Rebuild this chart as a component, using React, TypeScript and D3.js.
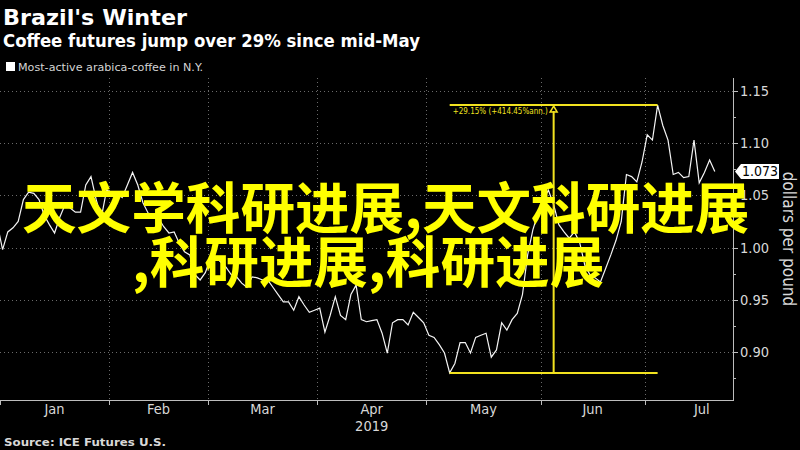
import React, { useMemo } from 'react';
import * as d3 from 'd3';

// ─── data ────────────────────────────────────────────────────────────────
// ICE trading calendar (weekdays minus exchange holidays)
const FIRST_DAY = '2018-12-31';
const LAST_DAY = '2019-07-31';
const HOLIDAYS = ['2019-01-01', '2019-01-21', '2019-02-18', '2019-04-19', '2019-05-27', '2019-07-04'];

// most-active arabica, $/lb, one value per trading day from Dec 31 2018
const PRICES = [
  1.022,
  0.998, 1.015, 1.019, 1.025, 1.046, 1.053, 1.052, 1.046, 1.031, 1.022,
  1.014, 1.029, 1.041, 1.038, 1.034, 1.034, 1.06, 1.068, 1.046, 1.029,
  1.055, 1.053, 1.052, 1.048, 1.06, 1.072, 1.06, 1.043, 1.033, 1.031,
  1.028, 1.02, 1.014, 1.015, 1.004, 0.996, 0.993, 0.974, 0.969, 0.976,
  0.99, 0.991, 0.986, 0.981, 0.974, 0.972, 0.966, 0.962, 0.972, 0.971,
  0.969, 0.969, 0.962, 0.955, 0.948, 0.948, 0.94, 0.953, 0.945, 0.938,
  0.94, 0.942, 0.919, 0.935, 0.953, 0.935, 0.931, 0.955, 0.964, 0.931,
  0.929, 0.93, 0.931, 0.918, 0.899, 0.928, 0.931, 0.931, 0.926, 0.938,
  0.933, 0.928, 0.916, 0.914, 0.907, 0.899, 0.88, 0.889, 0.909, 0.909,
  0.899, 0.914, 0.916, 0.918, 0.895, 0.902, 0.928, 0.921, 0.931, 0.937,
  0.955, 0.993, 1.017, 1.033, 1.046, 1.055, 1.041, 1.022, 1.015, 1.009,
  1.015, 1.005, 0.983, 0.974, 0.971, 0.967, 0.98, 0.993, 1.007, 1.025,
  1.07, 1.068, 1.063, 1.082, 1.108, 1.103, 1.1365, 1.117, 1.103, 1.07,
  1.072, 1.067, 1.068, 1.103, 1.062, 1.072, 1.084, 1.073,
];

const MONTH_LABELS = ['Jan', 'Feb', 'Mar', 'Apr', 'May', 'Jun', 'Jul'];
const YEAR_LABEL = '2019';
const Y_TICKS = [0.9, 0.95, 1.0, 1.05, 1.1, 1.15];
const Y_MINOR = [0.875, 0.925, 0.975, 1.025, 1.075, 1.125];

const MEASURE_FROM = '2019-05-07';
const MEASURE_TO = '2019-07-03';
const MEASURE_LABEL = '+29.15% (+414.45%ann.)';

const TITLE = "Brazil's Winter";
const SUBTITLE = 'Coffee futures jump over 29% since mid-May';
const LEGEND = 'Most-active arabica-coffee in N.Y.';
const UNITS = 'dollars per pound';
const SOURCE = 'Source: ICE Futures U.S.';
const OVERLAY = ['天文学科研进展,天文科研进展', ',科研进展,科研进展'];

// ─── layout ──────────────────────────────────────────────────────────────
const W = 800;
const H = 450;
const PLOT = { left: 0, right: 733, top: 78, bottom: 400 };
const YELLOW = '#f2e21f';
const NARROW = "'Liberation Sans Narrow', 'DejaVu Sans Condensed', 'Roboto Condensed', 'Liberation Sans', sans-serif";
const BOLD = "'DejaVu Sans', Verdana, sans-serif";

const fmt = d3.timeFormat('%Y-%m-%d');

export default function App() {
  const days = useMemo(() => {
    const end = d3.timeDay.offset(new Date(LAST_DAY + 'T00:00'), 1);
    return d3.timeDay
      .range(new Date(FIRST_DAY + 'T00:00'), end)
      .filter(d => d.getDay() !== 0 && d.getDay() !== 6 && !HOLIDAYS.includes(fmt(d)));
  }, []);
  const keys = days.map(fmt);

  const x = d3.scaleLinear().domain([0.5, 141.5]).range([PLOT.left, PLOT.right]);
  const y = d3.scaleLinear().domain([0.9, 1.15]).range([352, 91]);

  const line = d3
    .line<number>()
    .x((_, i) => x(i))
    .y(v => y(v));

  // month spans on the trading-day index
  const months = MONTH_LABELS.map((label, m) => {
    const idx = days.map((d, i) => (d.getFullYear() === 2019 && d.getMonth() === m ? i : -1)).filter(i => i >= 0);
    const first = idx[0];
    const last = idx[idx.length - 1];
    return { label, tick: x(first - 0.5), center: x((first + last) / 2) };
  });

  const iFrom = keys.indexOf(MEASURE_FROM);
  const iTo = keys.indexOf(MEASURE_TO);
  const mx0 = x(iFrom);
  const mx1 = x(iTo);
  const mxMid = (mx0 + mx1) / 2;
  const myLo = y(PRICES[iFrom]);
  const myHi = y(PRICES[iTo]);

  const lastV = PRICES[PRICES.length - 1];
  const ly = y(lastV);

  return (
    <svg
      width={W}
      height={H}
      style={{ position: 'absolute', left: 0, top: 0, display: 'block' }}
      fontFamily={BOLD}
    >
      <rect width={W} height={H} fill="#000" />
      <defs>
        <clipPath id="plot-clip">
          <rect x={PLOT.left} y={PLOT.top} width={PLOT.right - PLOT.left} height={PLOT.bottom - PLOT.top} />
        </clipPath>
      </defs>

      {/* header */}
      <text x={3} y={25} fill="#fff" fontSize={22} fontWeight="bold" textLength={184} lengthAdjust="spacingAndGlyphs">
        {TITLE}
      </text>
      <text x={3} y={47} fill="#fff" fontSize={17} fontWeight="bold" textLength={417} lengthAdjust="spacingAndGlyphs">
        {SUBTITLE}
      </text>
      <rect x={6} y={62} width={9} height={9} fill="#fff" />
      <text x={18} y={71} fill="#d4d4d4" fontSize={11} textLength={185} lengthAdjust="spacingAndGlyphs">
        {LEGEND}
      </text>

      {/* grid */}
      <g stroke="#6a6a6a" strokeWidth={1} strokeDasharray="1 3">
        {Y_TICKS.map(t => (
          <line key={t} x1={PLOT.left} x2={PLOT.right} y1={Math.round(y(t)) + 0.5} y2={Math.round(y(t)) + 0.5} />
        ))}
        {months
          .filter(m => m.tick > PLOT.left + 1 && m.tick < PLOT.right)
          .map(m => (
            <line key={m.label} x1={Math.round(m.tick) + 0.5} x2={Math.round(m.tick) + 0.5} y1={PLOT.top} y2={PLOT.bottom} />
          ))}
      </g>

      {/* price line */}
      <path d={line(PRICES) ?? undefined} fill="none" stroke="#f4f4f4" strokeWidth={1.2} clipPath="url(#plot-clip)" />

      {/* measurement tool */}
      <g stroke={YELLOW} strokeWidth={2} fill="none">
        <line x1={mx0} x2={mx1} y1={myHi} y2={myHi} />
        <line x1={mx0} x2={mx1} y1={myLo} y2={myLo} />
        <line x1={mxMid} x2={mxMid} y1={myLo} y2={myHi + 6} />
        <path d={`M${mxMid},${myHi + 1} L${mxMid - 3.5},${myHi + 7} L${mxMid + 3.5},${myHi + 7} Z`} strokeWidth={1.5} />
      </g>
      <text x={mx0 + 3} y={myHi + 9} fill={YELLOW} fontSize={8} fontFamily={NARROW}>
        {MEASURE_LABEL}
      </text>

      {/* right axis */}
      <g stroke="#bdbdbd" strokeWidth={1}>
        <line x1={PLOT.right + 0.5} x2={PLOT.right + 0.5} y1={PLOT.top} y2={PLOT.bottom} />
        {Y_TICKS.map(t => (
          <line key={t} x1={PLOT.right} x2={PLOT.right + 5} y1={Math.round(y(t)) + 0.5} y2={Math.round(y(t)) + 0.5} />
        ))}
        {Y_MINOR.map(t => (
          <line key={t} x1={PLOT.right} x2={PLOT.right + 3} y1={Math.round(y(t)) + 0.5} y2={Math.round(y(t)) + 0.5} />
        ))}
      </g>
      <g fill="#d8d8d8" fontSize={14.5} fontFamily={NARROW}>
        {Y_TICKS.map(t => (
          <text key={t} x={PLOT.right + 7} y={y(t)} dy="0.35em">
            {t.toFixed(2)}
          </text>
        ))}
      </g>
      <text
        transform={`translate(${789},${239}) rotate(90)`}
        textAnchor="middle"
        fill="#d8d8d8"
        fontSize={17}
        fontFamily={NARROW}
        dy="0.35em"
      >
        {UNITS}
      </text>

      {/* last value tag */}
      <path
        d={`M${PLOT.right + 2},${ly} L${PLOT.right + 8},${ly - 7.5} L${PLOT.right + 46},${ly - 7.5} L${PLOT.right + 46},${ly + 7.5} L${PLOT.right + 8},${ly + 7.5} Z`}
        fill="#fff"
      />
      <text x={PLOT.right + 27} y={ly} dy="0.36em" textAnchor="middle" fill="#000" fontSize={14} fontFamily={NARROW}>
        {lastV.toFixed(3)}
      </text>

      {/* bottom axis */}
      <g stroke="#bdbdbd" strokeWidth={1}>
        <line x1={PLOT.left} x2={PLOT.right + 1} y1={PLOT.bottom + 0.5} y2={PLOT.bottom + 0.5} />
        {months
          .filter(m => m.tick >= PLOT.left - 1 && m.tick < PLOT.right)
          .map(m => (
            <line
              key={m.label}
              x1={Math.max(0.5, Math.round(m.tick) + 0.5)}
              x2={Math.max(0.5, Math.round(m.tick) + 0.5)}
              y1={PLOT.bottom}
              y2={PLOT.bottom + 5}
            />
          ))}
      </g>
      <g fill="#d8d8d8" fontSize={14.5} fontFamily={NARROW} textAnchor="middle">
        {months.map(m => (
          <text key={m.label} x={m.center} y={414}>
            {m.label}
          </text>
        ))}
        <text x={months[3].center} y={431}>
          {YEAR_LABEL}
        </text>
      </g>

      <text x={4} y={446} fill="#d8d8d8" fontSize={11} fontWeight="bold" textLength={162} lengthAdjust="spacingAndGlyphs">
        {SOURCE}
      </text>

      {/* overlay caption */}
      <g fill="#ffff00" fontSize={54.6} fontWeight="bold" fontFamily="'Noto Sans CJK SC', sans-serif">
        <text x={22} y={228}>
          {OVERLAY[0]}
        </text>
        <text x={132} y={282}>
          {OVERLAY[1]}
        </text>
      </g>
    </svg>
  );
}
